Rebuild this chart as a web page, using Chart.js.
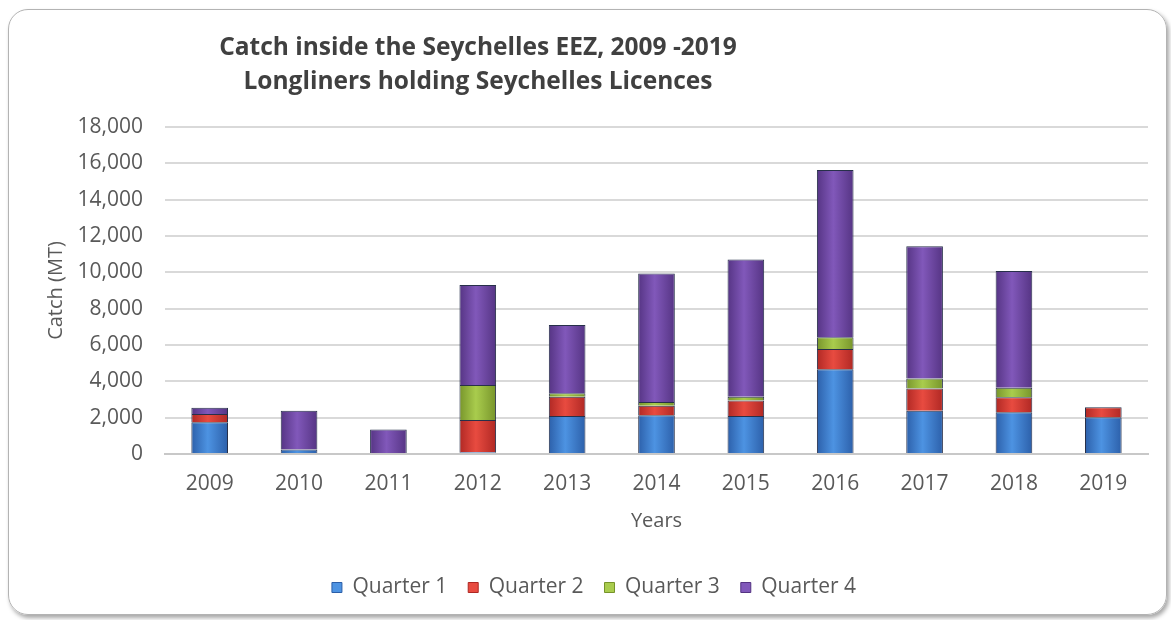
<!DOCTYPE html>
<html lang="en">
<head>
    <meta charset="UTF-8">
    <title>Catch inside the Seychelles EEZ</title>
    <style>
        body { margin: 0; background: #fff; }
        #wrap { position: relative; width: 1171px; height: 620px; }
        #frame {
            position: absolute; left: 8px; top: 9px; width: 1157px; height: 604px;
            border: 1.5px solid #b3b3b3; border-radius: 20px;
            box-shadow: 2px 3px 4px rgba(0,0,0,0.35);
        }
        #title {
            position: absolute; left: 78px; top: 29px; width: 800px;
            text-align: center; font: bold 24.5px "Open Sans", sans-serif;
            line-height: 34px; color: #404040;
        }
        #chart { position: absolute; left: 0; top: 0; }
    </style>
</head>
<body>
<div id="wrap">
    <div id="frame"></div>
    <canvas id="chart" width="1171" height="620"></canvas>
    <div id="title">Catch inside the Seychelles EEZ, 2009 -2019<br>Longliners holding Seychelles Licences</div>
</div>
<script src="https://cdn.jsdelivr.net/npm/chart.js"></script>
<script>
    // values, metric tonnes
    var years = ['2009','2010','2011','2012','2013','2014','2015','2016','2017','2018','2019']
    var quarter1 = [1750, 250, 0, 100, 2090, 2130, 2090, 4660, 2380, 2300, 2020]
    var quarter2 = [450, 0, 0, 1770, 1060, 530, 850, 1120, 1230, 820, 550]
    var quarter3 = [0, 0, 0, 1930, 200, 200, 210, 640, 550, 530, 0]
    var quarter4 = [350, 2130, 1350, 5500, 3750, 7080, 7560, 9210, 7280, 6420, 0]
    var seriesNames = ['Quarter 1','Quarter 2','Quarter 3','Quarter 4']

    // [edge, centre] colours for the glossy look
    var shades = [
        ['#2b5ea8', '#4d93e2'],
        ['#ae2723', '#e84b40'],
        ['#76932a', '#a9cc4d'],
        ['#543382', '#8158ba']
    ]

    function glossy(i) {
        return function(c) {
            var chart = c.chart
            if (!chart.chartArea || !chart.scales.x) return shades[i][1]
            var x = chart.scales.x.getPixelForValue(c.dataIndex)
            var g = chart.ctx.createLinearGradient(x - 19, 0, x + 19, 0)
            g.addColorStop(0, shades[i][0])
            g.addColorStop(0.45, shades[i][1])
            g.addColorStop(1, shades[i][0])
            return g
        }
    }

    var allData = [quarter1, quarter2, quarter3, quarter4]
    var datasets = allData.map(function(d, i) {
        return {
            label: seriesNames[i],
            data: d,
            backgroundColor: glossy(i),
            borderColor: '#27304a',
            borderWidth: 1,
            barPercentage: 0.41,
            categoryPercentage: 1
        }
    })

    var ctx = document.getElementById('chart')
    var chart = new Chart(ctx, {
        type: 'bar',
        data: { labels: years, datasets: datasets },
        options: {
            responsive: false,
            animation: false,
            layout: { padding: { top: 127, left: 40, right: 23, bottom: 12 } },
            plugins: {
                tooltip: { enabled: false },
                legend: {
                    position: 'bottom',
                    labels: {
                        boxWidth: 10, boxHeight: 10, padding: 21,
                        color: '#595959',
                        font: { family: 'Open Sans', size: 21 },
                        generateLabels: function(ch) {
                            return Chart.defaults.plugins.legend.labels.generateLabels(ch).map(function(l, i) {
                                l.fillStyle = shades[i][1]
                                l.strokeStyle = shades[i][0]
                                l.lineWidth = 1
                                return l
                            })
                        }
                    }
                }
            },
            scales: {
                x: {
                    stacked: true,
                    grid: { display: false, drawTicks: false },
                    border: { color: '#c8c8c8', width: 2 },
                    ticks: { color: '#595959', padding: 17, font: { family: 'Open Sans', size: 21 } },
                    title: {
                        display: true, text: 'Years', color: '#595959',
                        font: { family: 'Open Sans', size: 20 },
                        padding: { top: 0, bottom: 23 }
                    },
                    afterFit: function(s) { s.height = 102 }
                },
                y: {
                    stacked: true,
                    min: 0, max: 18000,
                    grid: { color: '#d9d9d9', lineWidth: 2, drawTicks: false },
                    border: { display: false },
                    ticks: {
                        stepSize: 2000, color: '#595959', padding: 22,
                        font: { family: 'Open Sans', size: 21 },
                        callback: function(v) { return v.toLocaleString('en-US') }
                    },
                    title: {
                        display: true, text: 'Catch (MT)', color: '#595959',
                        font: { family: 'Open Sans', size: 20 },
                        padding: { top: 4, bottom: 0 }
                    },
                    afterFit: function(s) { s.width = 125 }
                }
            }
        }
    })
</script>
</body>
</html>
